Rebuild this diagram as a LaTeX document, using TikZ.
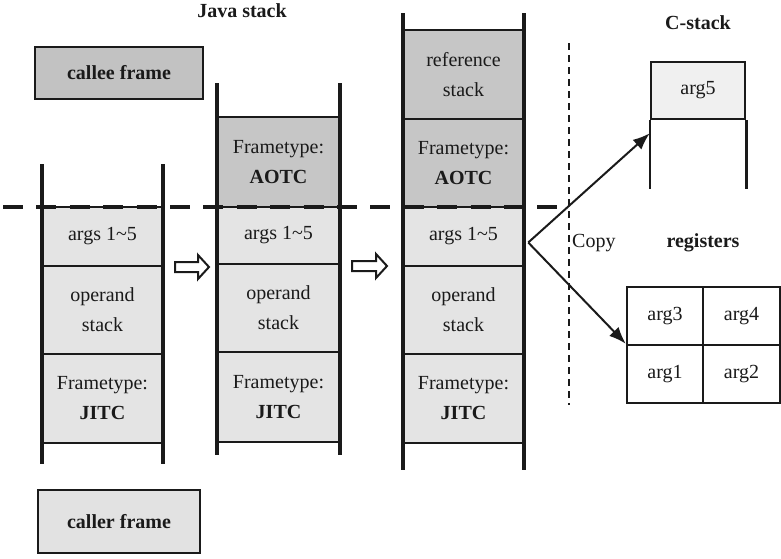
\documentclass[tikz,border=0pt]{standalone}
\usepackage{fontspec}
\setmainfont{Liberation Serif}
\usetikzlibrary{arrows.meta}
\definecolor{cellgray}{HTML}{E4E4E4}
\definecolor{darkcell}{HTML}{C6C6C6}
\definecolor{boxgray}{HTML}{C2C2C2}
\definecolor{lightbox}{HTML}{E2E2E2}
\definecolor{pale}{HTML}{F0F0F0}
\definecolor{ink}{HTML}{1A1A1A}
\begin{document}
\begin{tikzpicture}[x=1pt,y=-1pt,
  every node/.style={font=\fontsize{20}{30}\selectfont, text=ink},
  cell/.style={draw=ink, line width=2.5pt, fill=cellgray, inner sep=0pt, align=center},
  dcell/.style={cell, fill=darkcell},
  colA/.style={minimum width=121pt},
  colB/.style={minimum width=123pt},
  rail/.style={draw=ink, line width=4.5pt},
  thinrail/.style={draw=ink, line width=2.5pt},
  framebox/.style={draw=ink, line width=2.5pt, inner sep=0pt},
  reg/.style={draw=ink, line width=2.5pt, fill=white, inner sep=0pt},
  hollow/.style={draw=ink, line width=2pt, fill=white, line join=miter},
  copyarrow/.style={draw=ink, line width=2pt, -{Latex[length=17pt,width=13pt]}},
  divider/.style={draw=ink, line width=4pt, dash pattern=on 20pt off 13.4pt},
  vdivider/.style={draw=ink, line width=2pt, dash pattern=on 7pt off 5pt}
]
\useasboundingbox (0,0) rectangle (781,558);

% titles
\node (jtitle) at (242,11) {\textbf{Java stack}};
\node (ctitle) at (698,23) {\textbf{C-stack}};
\node (rtitle) at (703,243) {\textbf{registers}};

% legend boxes
\node[framebox, fill=boxgray, minimum width=168pt, minimum height=52pt] (callee) at (119,73) {\textbf{callee frame}};
\node[framebox, fill=lightbox, minimum width=162pt, minimum height=63pt] (caller) at (119,521.5) {\textbf{caller frame}};

% first Java stack
\node[cell, colA, minimum height=59pt] (s1args) at (102.5,236.5) {args 1\textasciitilde5};
\node[cell, colA, minimum height=88pt] (s1op) at (102.5,310) {operand\\stack};
\node[cell, colA, minimum height=89pt] (s1jit) at (102.5,398.5) {Frametype:\\\textbf{JITC}};
\draw[rail] (42,164) -- (42,464);
\draw[rail] (163,164) -- (163,464);

% second Java stack
\node[dcell, colB, minimum height=90pt] (s2aot) at (278.5,162) {Frametype:\\\textbf{AOTC}};
\node[cell, colB, minimum height=57pt] (s2args) at (278.5,235.5) {args 1\textasciitilde5};
\node[cell, colB, minimum height=88pt] (s2op) at (278.5,308) {operand\\stack};
\node[cell, colB, minimum height=90pt] (s2jit) at (278.5,397) {Frametype:\\\textbf{JITC}};
\draw[rail] (217,83) -- (217,455);
\draw[rail] (340,83) -- (340,455);

% third Java stack
\node[dcell, colA, minimum height=89pt] (s3ref) at (463.5,74.5) {reference\\stack};
\node[dcell, colA, minimum height=88pt] (s3aot) at (463.5,163) {Frametype:\\\textbf{AOTC}};
\node[cell, colA, minimum height=59pt] (s3args) at (463.5,236.5) {args 1\textasciitilde5};
\node[cell, colA, minimum height=88pt] (s3op) at (463.5,310) {operand\\stack};
\node[cell, colA, minimum height=89pt] (s3jit) at (463.5,398.5) {Frametype:\\\textbf{JITC}};
\draw[rail] (403,13) -- (403,470);
\draw[rail] (524,13) -- (524,470);

% hollow transition arrows
\draw[hollow] (175,262) -- (198,262) -- (198,255) -- (209,267) -- (198,279) -- (198,272) -- (175,272) -- cycle;
\draw[hollow] (352,261) -- (376,261) -- (376,254) -- (387,266) -- (376,278) -- (376,271) -- (352,271) -- cycle;

% frame boundaries
\draw[divider] (3,207) -- (557,207);
\draw[vdivider] (569,43) -- (569,405);
\node[anchor=west, inner sep=0pt] (copy) at (572,243) {Copy};

% C stack
\node[cell, fill=pale, minimum width=94pt, minimum height=57pt] (arg5) at (698,90.5) {arg5};
\draw[thinrail] (arg5.south west) -- ++(0,69);
\draw[thinrail] (arg5.south east) -- ++(0,69);

% registers
\node[reg, minimum width=76pt, minimum height=58pt] (r3) at (665,316) {arg3};
\node[reg, minimum width=77pt, minimum height=58pt] (r4) at (741.5,316) {arg4};
\node[reg, minimum width=76pt, minimum height=58pt] (r1) at (665,374) {arg1};
\node[reg, minimum width=77pt, minimum height=58pt] (r2) at (741.5,374) {arg2};

% copying the arguments
\coordinate (cpfrom) at ([xshift=3pt,yshift=-6pt]s3args.east);
\coordinate (cstackin) at ([yshift=-13pt]arg5.south west);
\draw[copyarrow] (cpfrom) -- (cstackin);
\draw[copyarrow] (cpfrom) -- (r1.north west);
\end{tikzpicture}
\end{document}
